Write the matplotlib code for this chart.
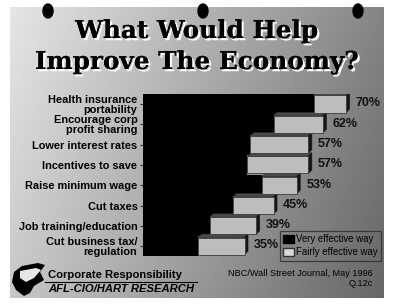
import numpy as np
import matplotlib
matplotlib.use("Agg")
import matplotlib.pyplot as plt
import matplotlib.patheffects as pe
from matplotlib.patches import Ellipse, Polygon, Patch

# data (percent)
categories = ["Health insurance\nportability", "Encourage corp\nprofit sharing",
              "Lower interest rates", "Incentives to save", "Raise minimum wage",
              "Cut taxes", "Job training/education", "Cut business tax/\nregulation"]
very_effective = [59, 45, 37, 36, 41, 31, 23, 19]
fairly_effective = [11, 17, 20, 21, 12, 14, 16, 16]
totals = [70, 62, 57, 57, 53, 45, 39, 35]

W, H = 400, 304
fig = plt.figure(figsize=(4, 3.04), dpi=100)
fig.patch.set_facecolor("white")

# background panel in pixel coordinates
bg = fig.add_axes([0, 0, 1, 1])
bg.set_xlim(0, W)
bg.set_ylim(H, 0)
bg.axis("off")
gx = np.linspace(0, 1, 300)
gy = np.linspace(0, 1, 220)
XX, YY = np.meshgrid(gx, gy)
grad = 0.9 - 0.38 * XX - 0.12 * YY
bg.imshow(grad, cmap="gray", vmin=0, vmax=1, extent=(10, 384, 298, 7),
          aspect="auto", zorder=0)

# binder holes
for hx in (48, 203, 358):
    bg.add_patch(Ellipse((hx, 11), 10, 14, color="black", zorder=2))

# title with white drop shadow
shadow = [pe.withSimplePatchShadow(offset=(1.6, -1.6), shadow_rgbFace="white", alpha=1.0),
          pe.Normal()]
for txt, yy in (("What Would Help", 31), ("Improve The Economy?", 62)):
    bg.text(197, yy, txt, ha="center", va="center", fontsize=17.8,
            fontfamily="DejaVu Serif", fontweight="heavy", color="black",
            path_effects=shadow, zorder=3)

# chart axes
px_per_unit = 2.9
row_px = 20.3
ax_left, ax_right = 143, 375
ax_top = 104 - row_px / 2
ax_bot = ax_top + row_px * len(categories)
ax = fig.add_axes([ax_left / W, 1 - ax_bot / H, (ax_right - ax_left) / W, (ax_bot - ax_top) / H])
ax.set_xlim(0, (ax_right - ax_left) / px_per_unit)
ax.set_ylim(len(categories) - 0.5, -0.5)
ax.patch.set_alpha(0)
for s in ax.spines.values():
    s.set_visible(False)

y = np.arange(len(categories))
ax.barh(y, very_effective, height=1.02, color="black", zorder=2)

# gray bars with a small 3D look
bh = 0.84
dx = 3.5 / px_per_unit
dy = 3.5 / row_px
for yi, v, f in zip(y, very_effective, fairly_effective):
    x0, x1 = v, v + f
    top = yi - bh / 2
    bot = yi + bh / 2
    ax.add_patch(Polygon([(x0, top), (x0 + dx, top - dy), (x1 + dx, top - dy), (x1, top)],
                         closed=True, facecolor="#4a4a4a", edgecolor="#2a2a2a", lw=0.5, zorder=3))
    ax.add_patch(Polygon([(x1, top), (x1 + dx, top - dy), (x1 + dx, bot - dy), (x1, bot)],
                         closed=True, facecolor="#151515", edgecolor="#151515", lw=0.5, zorder=3))
    ax.barh(yi, f, left=v, height=bh, color="#bdbdbd", edgecolor="#3a3a3a", lw=0.6, zorder=4)

for yi, t in zip(y, totals):
    ax.annotate(f"{t}%", (t, yi), xytext=(7, 0.5), textcoords="offset points",
                ha="left", va="center", fontsize=9, fontweight="bold",
                fontfamily="Liberation Sans", color="#111111")

ax.set_xticks([])
ax.set_yticks(y)
ax.set_yticklabels(categories, fontsize=7.9, fontweight="bold", fontfamily="Liberation Sans",
                   linespacing=0.95)
ax.tick_params(axis="y", length=2, pad=2, color="#333333")

# legend
handles = [Patch(facecolor="black", edgecolor="black", label="Very effective way"),
           Patch(facecolor="#d8d8d8", edgecolor="#333333", label="Fairly effective way")]
leg = ax.legend(handles=handles, loc="upper left", bbox_to_anchor=(280 / W, 1 - 231 / H),
                bbox_transform=fig.transFigure, frameon=True, fancybox=False, borderaxespad=0,
                handlelength=1.1, handleheight=0.8, handletextpad=0.25, borderpad=0.35,
                labelspacing=0.3, prop={"family": "Liberation Sans", "size": 6.9})
leg.get_frame().set_facecolor("none")
leg.get_frame().set_edgecolor("#2a2a2a")
leg.get_frame().set_linewidth(0.9)
leg.set_zorder(6)

# footer: logo, credits
logo = [(14, 272), (22, 266), (38, 263), (45, 265), (40, 272), (44, 280), (34, 286),
        (30, 293), (24, 296), (16, 290), (12, 282)]
bg.add_patch(Polygon(logo, closed=True, facecolor="black", zorder=3))
bg.add_patch(Polygon([(20, 271), (36, 268), (41, 270), (34, 278), (26, 282), (20, 278)],
                     closed=True, facecolor="#e6e6e6", zorder=4))
bg.text(48, 275, "Corporate Responsibility", fontsize=8.1, fontweight="bold",
        fontfamily="Liberation Sans", va="center", ha="left", zorder=5)
bg.plot([45, 197], [282, 282], color="black", lw=0.8, zorder=5)
bg.text(48, 289.5, "AFL-CIO/HART RESEARCH", fontsize=8.1, fontweight="bold", style="italic",
        fontfamily="Liberation Sans", va="center", ha="left", zorder=5)
bg.text(373, 273, "NBC/Wall Street Journal, May 1996", fontsize=6.6,
        fontfamily="Liberation Sans", va="center", ha="right", zorder=5)
bg.text(373, 284, "Q.12c", fontsize=6.6, fontfamily="Liberation Sans",
        va="center", ha="right", zorder=5)

fig.savefig("out.png", dpi=100, facecolor="white")
